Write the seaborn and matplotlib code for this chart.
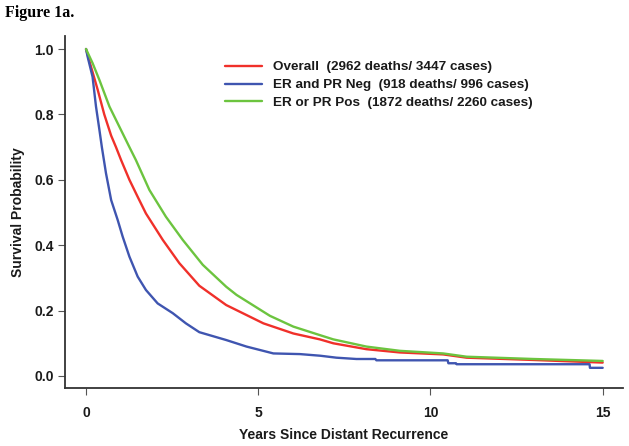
import numpy as np
import pandas as pd
import matplotlib
matplotlib.use("Agg")
import matplotlib.pyplot as plt
import seaborn as sns

# ---- data ----
labels = [
    "Overall  (2962 deaths/ 3447 cases)",
    "ER and PR Neg  (918 deaths/ 996 cases)",
    "ER or PR Pos  (1872 deaths/ 2260 cases)",
]

overall_t = [0, 0.145, 0.34, 0.53, 0.73, 0.87, 1.02, 1.26, 1.50, 1.74, 2.23, 2.71, 3.29, 4.07,
             5.15, 6.02, 6.79, 7.18, 8.14, 9.11, 10.37, 11.05, 13.0, 15.0]
overall_s = [1.0, 0.946, 0.875, 0.80, 0.735, 0.70, 0.66, 0.60, 0.548, 0.497, 0.416, 0.345, 0.276, 0.217,
             0.161, 0.130, 0.112, 0.100, 0.082, 0.072, 0.066, 0.056, 0.049, 0.041]

neg_t = [0, 0.05, 0.19, 0.29, 0.39, 0.46, 0.58, 0.73, 0.92, 1.065, 1.26, 1.50, 1.74, 2.08, 2.52,
         2.90, 3.29, 4.07, 4.66, 5.44, 6.21, 6.80, 7.27, 7.85, 8.40, 8.43, 10.50, 10.52, 10.74,
         10.76, 14.62, 14.63, 15.0]
neg_s = [1.0, 0.975, 0.915, 0.824, 0.752, 0.70, 0.62, 0.538, 0.477, 0.426, 0.365, 0.304, 0.263, 0.222,
         0.192, 0.161, 0.134, 0.110, 0.090, 0.069, 0.067, 0.062, 0.056, 0.052, 0.052, 0.048, 0.048,
         0.039, 0.039, 0.036, 0.036, 0.025, 0.025]

pos_t = [0, 0.19, 0.39, 0.68, 0.97, 1.26, 1.45, 1.84, 2.32, 2.81, 3.39, 4.07, 4.37, 5.34, 6.02,
         6.79, 7.18, 8.14, 9.11, 10.37, 11.05, 13.0, 15.0]
pos_s = [1.0, 0.957, 0.905, 0.824, 0.762, 0.70, 0.66, 0.569, 0.487, 0.416, 0.340, 0.273, 0.248, 0.184,
         0.151, 0.125, 0.112, 0.090, 0.077, 0.069, 0.059, 0.052, 0.046]

xticks = [0, 5, 10, 15]
yticks = [0.0, 0.2, 0.4, 0.6, 0.8, 1.0]

# ---- build long table ----
frames = []
for lab, t, s in zip(labels, [overall_t, neg_t, pos_t], [overall_s, neg_s, pos_s]):
    frames.append(pd.DataFrame({"t": t, "s": s, "group": lab}))
df = pd.concat(frames, ignore_index=True)

sns.set_theme(style="white")
plt.rcParams["font.family"] = ["Liberation Sans", "DejaVu Sans"]
plt.rcParams["font.weight"] = "bold"

txt = "#1a1a1a"
fig = plt.figure(figsize=(6.29, 4.46), dpi=100)
ax = fig.add_axes([65 / 629, 1 - 388 / 446, (623 - 65) / 629, (388 - 36) / 446])

palette = {labels[0]: "#f0302a", labels[1]: "#3f55b0", labels[2]: "#6cc43f"}
sns.lineplot(data=df, x="t", y="s", hue="group", hue_order=labels, palette=palette,
             estimator=None, sort=False, linewidth=1.7, ax=ax)

ax.set_xlim(-0.61, 15.59)
ax.set_ylim(-0.0367, 1.0398)
ax.set_xticks(xticks)
ax.set_xticklabels([str(v) for v in xticks])
ax.set_yticks(yticks)
ax.set_yticklabels([f"{v:.1f}" for v in yticks])

for side in ["top", "right"]:
    ax.spines[side].set_visible(False)
for side in ["left", "bottom"]:
    ax.spines[side].set_color("#333333")
    ax.spines[side].set_linewidth(1.3)

ax.tick_params(axis="both", which="major", direction="out", length=5, width=0.8,
               color="#555555", labelsize=10, labelcolor=txt)
ax.tick_params(axis="x", pad=8, bottom=True)
ax.tick_params(axis="y", pad=3, left=True)
for lab in ax.get_xticklabels() + ax.get_yticklabels():
    lab.set_fontweight("bold")

ax.set_xlabel("Years Since Distant Recurrence", fontsize=10, fontweight="bold", color=txt, labelpad=6)
ax.set_ylabel("Survival Probability", fontsize=10, fontweight="bold", color=txt, labelpad=7)

leg = ax.legend(loc="upper left", bbox_to_anchor=(225 / 629, 1 - 61 / 446),
                bbox_transform=fig.transFigure, frameon=False, fontsize=9.7,
                handlelength=2.75, handletextpad=0.8, labelspacing=0.4,
                borderpad=0, borderaxespad=0, title=None)
for t in leg.get_texts():
    t.set_fontweight("bold")
    t.set_color(txt)

fig.text(5 / 629, 1 - 13 / 446, "Figure 1a.", fontsize=11.5, fontweight="bold",
         family=["Liberation Serif", "DejaVu Serif"], color="black", va="center", ha="left")

fig.savefig("out.png", dpi=100, facecolor="white")
